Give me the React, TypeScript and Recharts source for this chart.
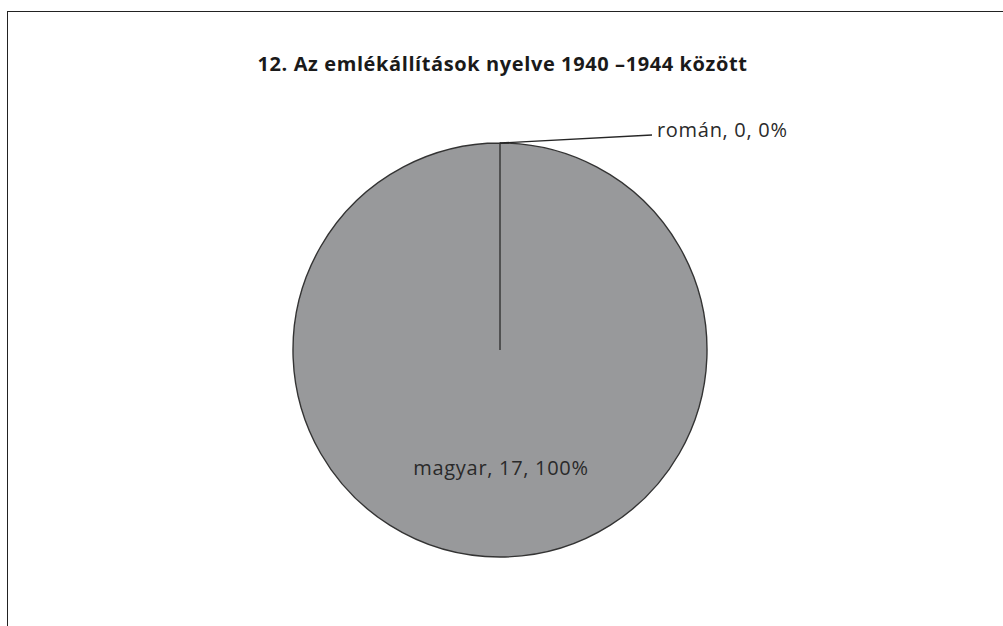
import React from 'react';
import { PieChart, Pie, Cell } from 'recharts';

const languages = ['magyar', 'román'];
const counts = [17, 0];
const percentLabels = ['100%', '0%'];
const title = '12. Az emlékállítások nyelve 1940 –1944 között';

const chartData = languages.map((name, i) => ({ name, value: counts[i], pct: percentLabels[i] }));

const RAD = Math.PI / 180;
const FONT = '"Open Sans", "Noto Sans", sans-serif';

const renderLabel = (props: any) => {
  const { cx, cy, midAngle, outerRadius, index } = props;
  const d = chartData[index];
  const text = `${d.name}, ${d.value}, ${d.pct}`;
  if (index === 0) {
    return (
      <text x={cx + 1} y={cy + outerRadius * 0.605} textAnchor="middle"
        fill="#2a2a2a" fontSize={20} letterSpacing={0.7} fontFamily={FONT}>
        {text}
      </text>
    );
  }
  // zero slice sits on top of the pie: leader line out to the right
  const x0 = cx + outerRadius * Math.cos(-midAngle * RAD);
  const y0 = cy + outerRadius * Math.sin(-midAngle * RAD);
  const x1 = x0 + 152;
  const y1 = y0 - 8;
  return (
    <g>
      <polyline points={`${x0},${y0} ${x1},${y1}`} stroke="#262626" strokeWidth={1.3} fill="none" />
      <text x={x1 + 5} y={y1 + 2} textAnchor="start"
        fill="#2a2a2a" fontSize={20} letterSpacing={0.7} fontFamily={FONT}>
        {text}
      </text>
    </g>
  );
};

export default function App() {
  return (
    <div style={{ position: 'absolute', left: 0, top: 0, width: 1003, height: 626, background: '#fff', overflow: 'hidden' }}>
      {/* frame: only left and top edges are visible in the crop */}
      <div style={{ position: 'absolute', left: 7, top: 11, width: 1100, height: 700, borderLeft: '1.5px solid #222', borderTop: '1.5px solid #222' }} />
      <div style={{ position: 'absolute', left: 1, width: 1003, top: 50, textAlign: 'center', fontFamily: FONT, fontWeight: 700, fontSize: 20, letterSpacing: 0.6, color: '#1a1a1a', lineHeight: 'normal' }}>
        {title}
      </div>
      <div style={{ position: 'absolute', left: 0, top: 0 }}>
        <PieChart width={1003} height={626} margin={{ top: 0, right: 0, bottom: 0, left: 0 }}>
          <Pie
            data={chartData}
            dataKey="value"
            nameKey="name"
            cx={500}
            cy={350}
            outerRadius={207}
            startAngle={90}
            endAngle={-270}
            stroke="#333"
            strokeWidth={1.4}
            label={renderLabel}
            labelLine={false}
            isAnimationActive={false}
          >
            {chartData.map((d) => (
              <Cell key={d.name} fill="#98999b" />
            ))}
          </Pie>
        </PieChart>
      </div>
    </div>
  );
}
